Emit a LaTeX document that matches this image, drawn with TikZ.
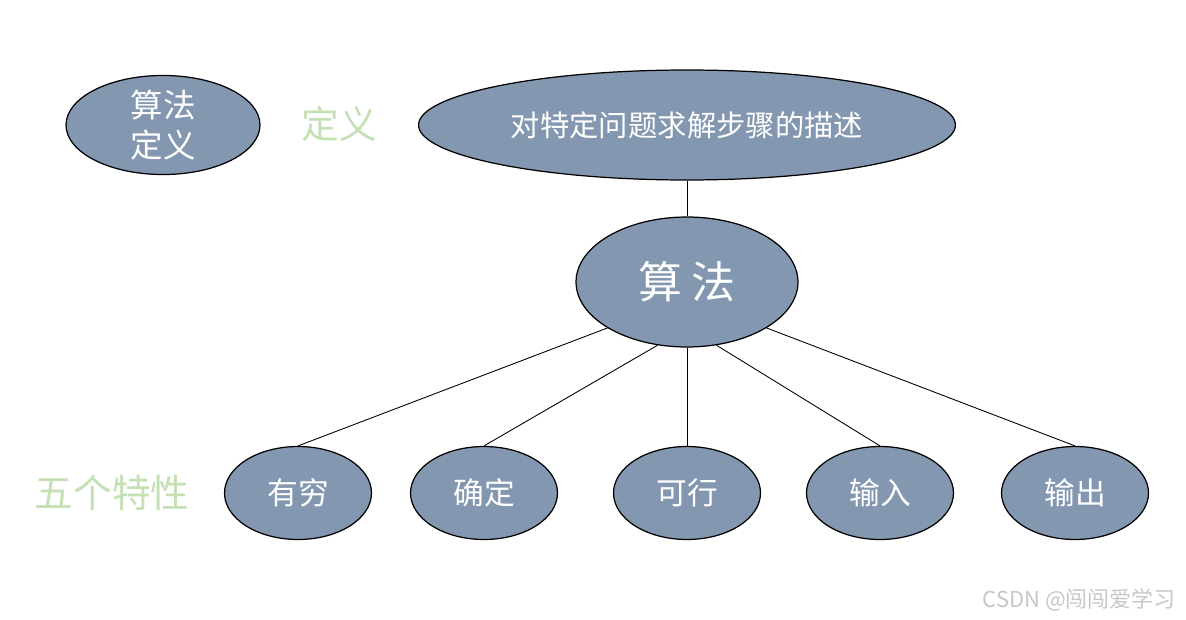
\documentclass[tikz,border=0pt]{standalone}
\usepackage{fontspec}
\newfontfamily\cjk{Noto Sans CJK SC}
\usetikzlibrary{shapes.geometric}
\definecolor{nodeblue}{RGB}{132,151,176}
\definecolor{labgreen}{RGB}{197,224,180}

\begin{document}
\begin{tikzpicture}[x=0.02cm, y=-0.02cm, line width=0.5pt,
    blob/.style={ellipse, draw, line width=0.7pt, fill=nodeblue, text=white,
      inner sep=0pt, font=\cjk\fontsize{17.5}{19}\selectfont},
    lab/.style={text=labgreen, font=\cjk\fontsize{21.5}{24}\selectfont}]
    \useasboundingbox (0,0) rectangle (1186,619);

    \node[blob, minimum width=3.88cm, minimum height=1.8cm, align=center,
      font=\cjk\fontsize{18.5}{22.7}\selectfont](def) at (163,125) {算法\\定义};
    \node[lab](dlab) at (339,124) {定义};
    \node[blob, minimum width=10.74cm, minimum height=2.2cm,
      font=\cjk\fontsize{16.7}{18}\selectfont](desc) at (687,125) {对特定问题求解步骤的描述};

    \node[blob, minimum width=4.44cm, minimum height=2.6cm,
      font=\cjk\fontsize{25}{27}\selectfont](alg) at (687,282) {算 法};

    \node[lab, font=\cjk\fontsize{22}{24}\selectfont](flab) at (112,493) {五个特性};
    \node[blob, minimum width=2.94cm, minimum height=1.86cm](p1) at (298,493) {有穷};
    \node[blob, minimum width=2.94cm, minimum height=1.86cm](p2) at (484,493) {确定};
    \node[blob, minimum width=2.94cm, minimum height=1.86cm](p3) at (687,493) {可行};
    \node[blob, minimum width=2.94cm, minimum height=1.86cm](p4) at (880,493) {输入};
    \node[blob, minimum width=2.94cm, minimum height=1.86cm](p5) at (1075,493) {输出};

    \node[text=black!22, anchor=east, font=\cjk\fontsize{12.5}{14}\selectfont](mark) at (1182,600) {CSDN @闯闯爱学习};

    \draw (desc) edge (alg)
          (alg.210) edge (p1.north)
          (alg.245) edge (p2.north)
          (alg.south) edge (p3.north)
          (alg.295) edge (p4.north)
          (alg.330) edge (p5.north);
  \end{tikzpicture}
\end{document}
